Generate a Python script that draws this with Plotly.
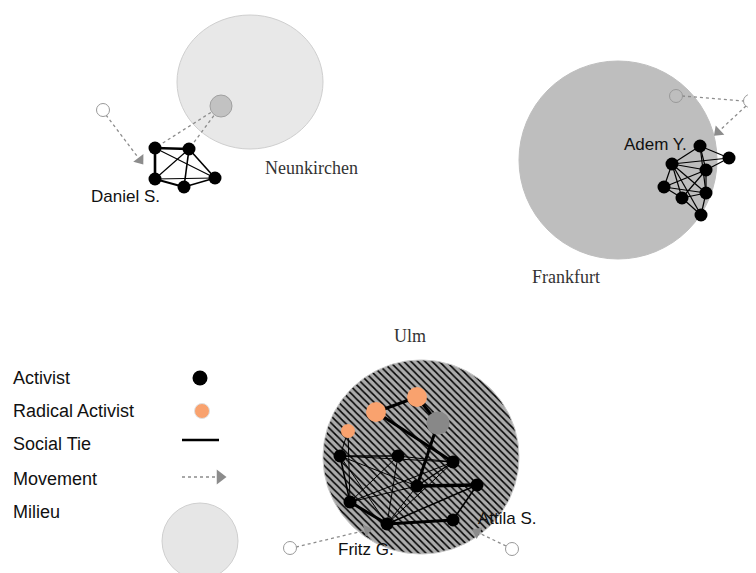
import numpy as np
import plotly.graph_objects as go

# ---------------- data ----------------
# Milieus: name, centre, radii, label position
milieu_names = ["Neunkirchen", "Frankfurt", "Ulm"]
milieu_cx = [250, 618, 421]
milieu_cy = [82, 160, 457]
milieu_rx = [73, 99, 98]
milieu_ry = [67, 99, 97]
milieu_label_x = [311, 566, 410]
milieu_label_y = [168, 277, 336]

# Activists around Neunkirchen (Daniel S.)
dan_x = [155, 189, 155, 184, 215]
dan_y = [148, 149, 179, 187, 178]
dan_edges = [(0, 1, 2.6), (0, 2, 2.6), (0, 4, 1.2), (1, 2, 1.2), (1, 3, 1.6),
             (1, 4, 1.6), (2, 3, 2.0), (2, 4, 1.2), (3, 4, 1.6)]

# Activists around Frankfurt (Adem Y.)
fra_x = [700, 729, 672, 706, 664, 706, 682, 701]
fra_y = [146, 158, 164, 170, 187, 193, 198, 215]
fra_edges = [(0, 1), (0, 2), (0, 3), (0, 5), (2, 1), (2, 3), (3, 1), (2, 4), (2, 6),
             (2, 5), (2, 7), (4, 6), (4, 5), (6, 5), (6, 7), (5, 7), (3, 5), (3, 6), (4, 3)]

# Activists in Ulm
ulm_x = [376, 417, 348, 438, 340, 398, 453, 417, 477, 350, 387, 453]
ulm_y = [412, 397, 431, 423, 456, 456, 462, 486, 485, 502, 524, 520]
ulm_kind = ["radical", "radical", "radical_s", "moved", "activist", "activist", "activist",
            "activist", "activist", "activist", "activist", "activist"]
ulm_edges = [(0, 1, 3.0), (0, 6, 3.0), (1, 3, 3.0), (3, 7, 3.0), (7, 8, 3.5), (8, 10, 1.5),
             (10, 11, 3.0), (9, 10, 3.0), (4, 9, 1.6), (2, 4, 1.0), (2, 9, 1.0), (4, 5, 1.4),
             (4, 6, 1.0), (5, 6, 1.0), (4, 10, 1.0), (5, 9, 1.0), (5, 10, 1.0), (9, 6, 1.0),
             (9, 7, 1.0), (10, 7, 1.0), (10, 6, 1.0), (7, 6, 1.4), (11, 8, 1.6), (4, 7, 1.0)]

# Former positions (hollow nodes) and movements
origin_x = [103, 676, 750, 290, 512]
origin_y = [110, 96, 101, 548, 549]
move_x0 = [106, 221, 221, 682, 746, 296, 506]
move_y0 = [115, 106, 106, 96, 106, 547, 546]
move_x1 = [140, 155, 189, 744, 718, 367, 477]
move_y1 = [160, 148, 149, 101, 132, 530, 532]
move_arrow = [True, False, False, False, True, True, True]

# Grey (moved-from) node in Neunkirchen
moved_x = [221]
moved_y = [106]

# Person labels
person_names = ["Daniel S.", "Adem Y.", "Fritz G.", "Attila S."]
person_x = [125, 655, 366, 507]
person_y = [196, 144, 549, 518]

# Legend
legend_labels = ["Activist", "Radical Activist", "Social Tie", "Movement", "Milieu"]
legend_y = [378, 411, 444, 479, 512]

BLACK = "#000000"
ORANGE = "#F9A26E"
GREY_DOT = "#8C8C8C"

fig = go.Figure()

# Ulm milieu (hatched) as filled polygon
t = np.linspace(0, 2 * np.pi, 200)
fig.add_trace(go.Scatter(
    x=milieu_cx[2] + milieu_rx[2] * np.cos(t), y=milieu_cy[2] + milieu_ry[2] * np.sin(t),
    mode="lines", fill="toself", line=dict(color="#C8C8C8", width=1),
    fillcolor="#ABABAB",
    fillpattern=dict(shape="\\", bgcolor="#ABABAB", fgcolor="#000000", size=5, solidity=0.3,
                     fgopacity=1),
    hoverinfo="skip"))

# Other milieus as shapes
fills = ["#E8E8E8", "#BEBEBE"]
lines = ["#CFCFCF", "#BEBEBE"]
for i in range(2):
    fig.add_shape(type="circle", xref="x", yref="y", layer="below",
                  x0=milieu_cx[i] - milieu_rx[i], x1=milieu_cx[i] + milieu_rx[i],
                  y0=milieu_cy[i] - milieu_ry[i], y1=milieu_cy[i] + milieu_ry[i],
                  fillcolor=fills[i], line=dict(color=lines[i], width=1))
# legend milieu
fig.add_shape(type="circle", xref="x", yref="y", layer="below",
              x0=200 - 38, x1=200 + 38, y0=541 - 38, y1=541 + 38,
              fillcolor="#E6E6E6", line=dict(color="#CFCFCF", width=1))


def add_edges(xs, ys, edges, default_w=1.2):
    for e in edges:
        i, j = e[0], e[1]
        w = e[2] if len(e) > 2 else default_w
        fig.add_trace(go.Scatter(x=[xs[i], xs[j]], y=[ys[i], ys[j]], mode="lines",
                                 line=dict(color=BLACK, width=w), hoverinfo="skip"))


# movements (dotted)
for k in range(len(move_x0)):
    if move_arrow[k]:
        fig.add_trace(go.Scatter(
            x=[move_x0[k], move_x1[k]], y=[move_y0[k], move_y1[k]], mode="lines+markers",
            line=dict(color=GREY_DOT, width=1.3, dash="dot"),
            marker=dict(symbol="triangle-up", size=[0, 11], color=GREY_DOT, opacity=1,
                        angleref="previous", line=dict(width=0)),
            hoverinfo="skip"))
    else:
        fig.add_trace(go.Scatter(
            x=[move_x0[k], move_x1[k]], y=[move_y0[k], move_y1[k]], mode="lines",
            line=dict(color=GREY_DOT, width=1.3, dash="dot"), hoverinfo="skip"))

add_edges(dan_x, dan_y, dan_edges)
add_edges(fra_x, fra_y, fra_edges)
add_edges(ulm_x, ulm_y, ulm_edges)

# nodes
fig.add_trace(go.Scatter(x=dan_x, y=dan_y, mode="markers",
                         marker=dict(color=BLACK, size=13, opacity=1), hoverinfo="skip"))
fig.add_trace(go.Scatter(x=fra_x, y=fra_y, mode="markers",
                         marker=dict(color=BLACK, size=13, opacity=1), hoverinfo="skip"))
ucol = {"radical": ORANGE, "radical_s": ORANGE, "moved": "#888888", "activist": BLACK}
usz = {"radical": 20, "radical_s": 14, "moved": 23, "activist": 13}
fig.add_trace(go.Scatter(x=ulm_x, y=ulm_y, mode="markers",
                         marker=dict(color=[ucol[k] for k in ulm_kind],
                                     size=[usz[k] for k in ulm_kind], opacity=1,
                                     line=dict(width=0)), hoverinfo="skip"))
fig.add_trace(go.Scatter(x=moved_x, y=moved_y, mode="markers",
                         marker=dict(color="#C2C2C2", size=22, opacity=1,
                                     line=dict(color="#A0A0A0", width=1)),
                         hoverinfo="skip"))
origin_fill = ["white", "#BEBEBE", "white", "white", "white"]
fig.add_trace(go.Scatter(x=origin_x, y=origin_y, mode="markers",
                         marker=dict(color=origin_fill, size=13, opacity=1,
                                     line=dict(color="#999999", width=1)),
                         hoverinfo="skip"))

# legend symbols
fig.add_trace(go.Scatter(x=[200], y=[legend_y[0]], mode="markers",
                         marker=dict(color=BLACK, size=15), hoverinfo="skip"))
fig.add_trace(go.Scatter(x=[202], y=[legend_y[1]], mode="markers",
                         marker=dict(color=ORANGE, size=15, line=dict(color="#E0E0E0", width=1)),
                         hoverinfo="skip"))
fig.add_trace(go.Scatter(x=[182, 219], y=[440, 440], mode="lines",
                         line=dict(color=BLACK, width=2.6), hoverinfo="skip"))
fig.add_trace(go.Scatter(x=[182, 220], y=[477, 477], mode="lines+markers",
                         line=dict(color=GREY_DOT, width=1.3, dash="dot"),
                         marker=dict(symbol="triangle-up", size=[0, 13], color=GREY_DOT, opacity=1,
                                     angleref="previous", line=dict(width=0)),
                         hoverinfo="skip"))

# texts
for i in range(3):
    fig.add_annotation(x=milieu_label_x[i], y=milieu_label_y[i], text=milieu_names[i],
                       showarrow=False, font=dict(family="Liberation Serif", size=18, color="#333333"))
for i in range(len(person_names)):
    fig.add_annotation(x=person_x[i], y=person_y[i], text=person_names[i], showarrow=False,
                       font=dict(family="Liberation Sans", size=17, color="#111111"))
for lab, ly in zip(legend_labels, legend_y):
    fig.add_annotation(x=11, y=ly, text=lab, showarrow=False, xanchor="left",
                       font=dict(family="Liberation Sans", size=18, color="#111111"))

# The page body has an 8px margin: map data coordinates straight to window pixels.
fig.update_layout(
    width=748, height=565, margin=dict(l=0, r=0, t=0, b=0),
    paper_bgcolor="white", plot_bgcolor="white", showlegend=False,
    xaxis=dict(range=[8, 756], visible=False, fixedrange=True),
    yaxis=dict(range=[573, 8], visible=False, fixedrange=True),
)

fig.write_html("out.html")
